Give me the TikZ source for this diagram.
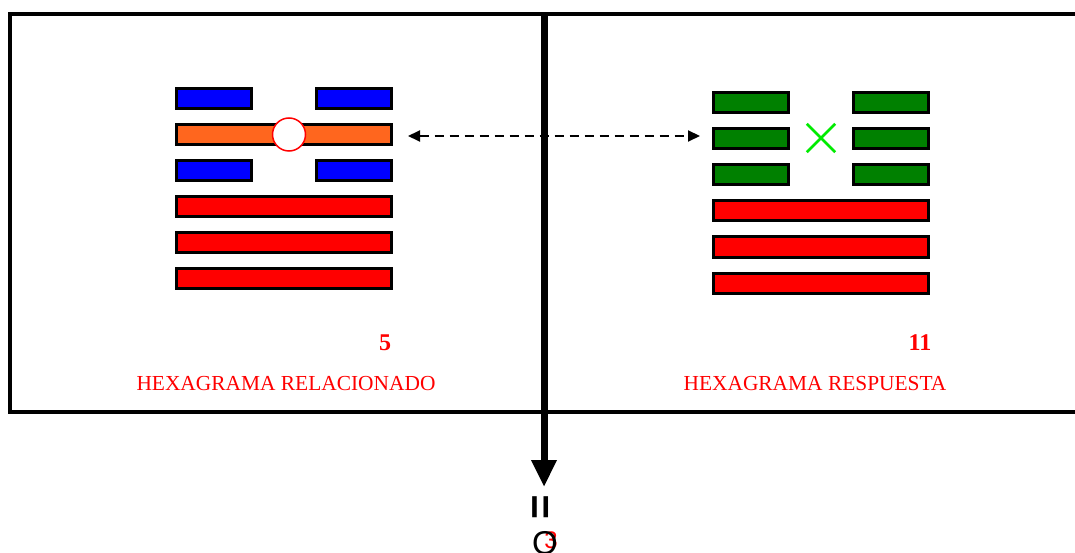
\documentclass[tikz,border=0pt]{standalone}
\usepackage{fontspec}
\setmainfont{Liberation Serif}
\newfontfamily\arialfont{Liberation Sans}
\usetikzlibrary{arrows.meta}
\definecolor{barblu}{RGB}{0,0,255}
\definecolor{barara}{RGB}{255,102,30}
\definecolor{barver}{RGB}{0,128,0}
\definecolor{barros}{RGB}{255,0,0}
\definecolor{croce}{RGB}{0,235,0}
\tikzset{
  linea/.style={rectangle,draw,line width=3pt,inner sep=0pt,minimum height=20pt},
  corta/.style={linea,minimum width=75pt},
  lunga/.style={linea,minimum width=215pt},
  etich/.style={text=barros,font=\fontsize{21.4}{22}\selectfont}
}
\begin{document}
\begin{tikzpicture}[x=1pt,y=-1pt]
            \useasboundingbox (0,0) rectangle (1075,553);

            %cornice aperta a destra
            \draw[line width=4pt] (1085,14) -- (10,14) -- (10,412) -- (1085,412);

            %esagramma di sinistra, tre linee in alto
            \node[corta, fill=barblu] (s1a) at (214,98.5) {};
            \node[corta, fill=barblu] (s1b) at (354,98.5) {};
            \node[lunga, fill=barara] (s2) at (284,134.5) {};
            \node[corta, fill=barblu] (s3a) at (214,170.5) {};
            \node[corta, fill=barblu] (s3b) at (354,170.5) {};

            %tre linee intere in basso
            \node[lunga, fill=barros] (s4) at (284,206.5) {};
            \node[lunga, fill=barros] (s5) at (284,242.5) {};
            \node[lunga, fill=barros] (s6) at (284,278.5) {};

            %cerchio sulla linea mobile
            \node[circle,draw=barros,line width=1.5pt,fill=white,minimum size=33pt,inner sep=0pt] (cerchio) at (289,134.5) {};

            %esagramma di destra
            \node[corta, fill=barver] (d1a) at (751,103) {};
            \node[corta, fill=barver] (d1b) at (891,103) {};
            \node[corta, fill=barver] (d2a) at (751,139) {};
            \node[corta, fill=barver] (d2b) at (891,139) {};
            \node[corta, fill=barver] (d3a) at (751,175) {};
            \node[corta, fill=barver] (d3b) at (891,175) {};
            \node[lunga, fill=barros] (d4) at (821,211) {};
            \node[lunga, fill=barros] (d5) at (821,247) {};
            \node[lunga, fill=barros] (d6) at (821,283) {};

            %croce verde
            \node[inner sep=0pt,minimum size=28pt] (x) at (821,138) {};
            \draw[croce, line width=2.5pt] (x.north west) -- (x.south east);
            \draw[croce, line width=2.5pt] (x.north east) -- (x.south west);

            %numeri e titoli
            \node[etich, font=\bfseries\fontsize{24}{24}\selectfont] (n5) at (385,343) {5};
            \node[etich, font=\bfseries\fontsize{24}{24}\selectfont] (n11) at (920,343) {11};
            \node[etich] (tsx) at (286,384) {HEXAGRAMA RELACIONADO};
            \node[etich] (tdx) at (815,384) {HEXAGRAMA RESPUESTA};

            %freccia tratteggiata tra le due linee
            \draw[line width=2pt, dash pattern=on 9pt off 6pt,
                  {Triangle[length=12pt,width=11pt]}-{Triangle[length=12pt,width=11pt]}]
                  ([xshift=15pt,yshift=-1.5pt]s2.east) -- ([xshift=-12pt,yshift=-1.5pt]d2a.west |- s2.east);

            %freccia verticale centrale
            \coordinate (alto) at (544,14);
            \coordinate (punta) at (544,487);
            \draw[line width=7pt, -{Triangle[length=27pt,width=24pt]}] (alto) -- (punta);

            %simboli in fondo
            \node[rotate=90, font=\arialfont\bfseries\fontsize{42}{42}\selectfont] (uguale) at (544,507) {=};
            \node[text=barros, anchor=base, font=\arialfont\fontsize{24}{24}\selectfont] (tre) at (551,548) {3};
            \node[anchor=base, inner sep=0pt, font=\arialfont\fontsize{33}{33}\selectfont] (o) at (545,554) {O};

        \end{tikzpicture}
\end{document}
